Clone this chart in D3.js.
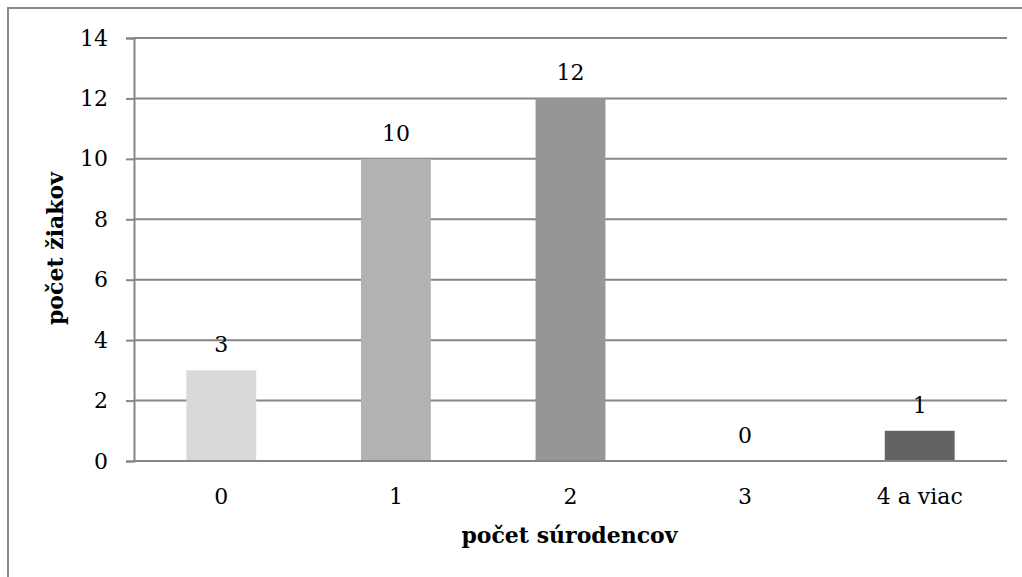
<!DOCTYPE html>
<html>
<head>
<meta charset="utf-8">
<script src="https://cdn.jsdelivr.net/npm/d3@7"></script>
<style>
  html, body { margin: 0; padding: 0; background: #fff; }
  svg { display: block; }
</style>
</head>
<body>
<svg id="chart" width="1022" height="577"></svg>
<script>
// Number of siblings (categories) and pupil counts
const categories = ["0", "1", "2", "3", "4 a viac"];
const pupils = [3, 10, 12, 0, 1];
const barColors = ["#d9d9d9", "#b2b2b2", "#969696", "#7f7f7f", "#636363"];
const yTicks = [0, 2, 4, 6, 8, 10, 12, 14];
const xTitle = "počet súrodencov";
const yTitle = "počet žiakov";

const W = 1022, H = 577;
const plot = { left: 134, right: 1007, top: 38, bottom: 461 };
const font = "'DejaVu Serif', serif";
const gridColor = "#868686";
const labelSize = 22;

const svg = d3.select("#chart");

// chart frame
svg.append("rect")
  .attr("x", 8).attr("y", 8)
  .attr("width", W - 8 + 5).attr("height", H)
  .attr("fill", "none").attr("stroke", "#888").attr("stroke-width", 2);

const x = d3.scaleBand().domain(categories).range([plot.left, plot.right]).paddingInner(0.6).paddingOuter(0.3);
const y = d3.scaleLinear().domain([0, 14]).range([plot.bottom, plot.top]);

// y axis with ticks
const yAxis = d3.axisLeft(y).tickValues(yTicks).tickSize(8).tickPadding(18).tickFormat(d3.format("d"));
const gy = svg.append("g").attr("transform", `translate(${plot.left},0)`).call(yAxis);
gy.select(".domain").attr("stroke", gridColor).attr("stroke-width", 2);
gy.selectAll(".tick line").attr("stroke", gridColor).attr("stroke-width", 2);
gy.selectAll(".tick text").attr("font-family", font).attr("font-size", labelSize).attr("fill", "#000");

// horizontal gridlines
svg.append("g").selectAll("line").data(yTicks.filter(d => d > 0)).join("line")
  .attr("x1", plot.left).attr("x2", plot.right)
  .attr("y1", d => y(d)).attr("y2", d => y(d))
  .attr("stroke", gridColor).attr("stroke-width", 2);

// bars
svg.append("g").selectAll("rect").data(categories).join("rect")
  .attr("x", d => x(d))
  .attr("width", x.bandwidth())
  .attr("y", (d, i) => y(pupils[i]))
  .attr("height", (d, i) => y(0) - y(pupils[i]))
  .attr("fill", (d, i) => barColors[i]);

// baseline (x axis)
const xAxis = d3.axisBottom(x).tickSize(0).tickPadding(27);
const gx = svg.append("g").attr("transform", `translate(0,${plot.bottom})`).call(xAxis);
gx.select(".domain").attr("stroke", gridColor).attr("stroke-width", 2)
  .attr("d", `M${plot.left},0H${plot.right}`);
gx.selectAll(".tick text").attr("font-family", font).attr("font-size", labelSize).attr("fill", "#000");

// value labels
svg.append("g").selectAll("text").data(categories).join("text")
  .attr("x", d => x(d) + x.bandwidth() / 2)
  .attr("y", (d, i) => y(pupils[i]) - 18)
  .attr("text-anchor", "middle")
  .attr("font-family", font).attr("font-size", labelSize).attr("fill", "#000")
  .text((d, i) => pupils[i]);

// axis titles
svg.append("text")
  .attr("x", (plot.left + plot.right) / 2 - 1).attr("y", 543)
  .attr("text-anchor", "middle")
  .attr("font-family", font).attr("font-size", 22).attr("font-weight", "bold").attr("fill", "#000")
  .text(xTitle);

svg.append("text")
  .attr("transform", `translate(63,${(plot.top + plot.bottom) / 2 - 1}) rotate(-90)`)
  .attr("text-anchor", "middle")
  .attr("font-family", font).attr("font-size", 22).attr("font-weight", "bold").attr("fill", "#000")
  .text(yTitle);
</script>
</body>
</html>
